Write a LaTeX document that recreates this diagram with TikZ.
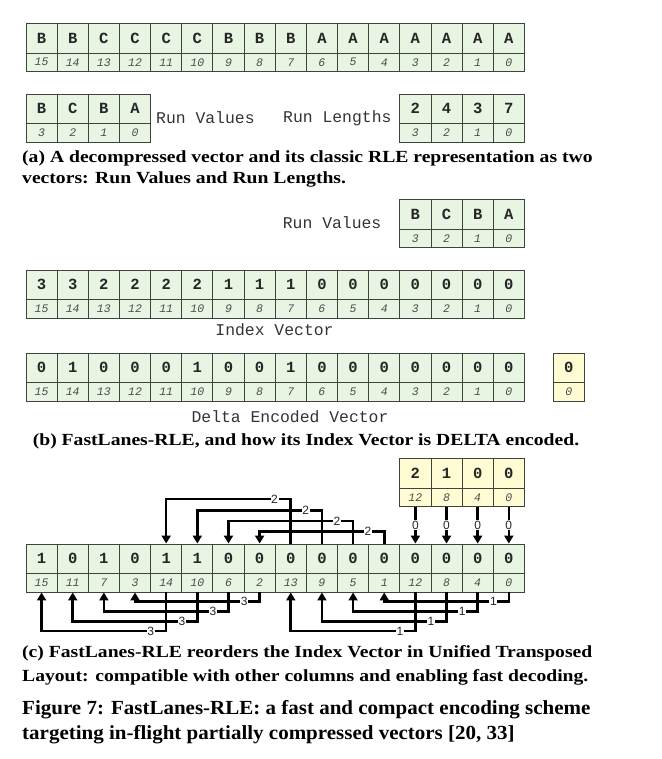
\documentclass[tikz,border=0pt]{standalone}
\usepackage{fontspec}
\setmainfont{Liberation Serif}
\newfontfamily\cellfont{Liberation Mono}
\newfontfamily\lblfont{Liberation Sans}
\newfontfamily\capfont[FakeStretch=1.155]{Liberation Serif}
\newfontfamily\figfont[FakeStretch=1.05]{Liberation Serif}
\usetikzlibrary{arrows.meta}
\definecolor{cellgreen}{HTML}{E8F5E3}
\definecolor{cellyellow}{HTML}{FFFBD3}
\definecolor{celldraw}{HTML}{3C443C}
\begin{document}
\begin{tikzpicture}[x=1pt,y=-1pt]
		\tikzstyle{val}=[draw=celldraw,
			line width=0.9pt,
			fill=cellgreen,
			minimum width=31.15pt,
			minimum height=29.5pt,
			inner sep=0pt,
			text=black!85,
			font=\cellfont\bfseries\fontsize{15.5}{15.5}\selectfont,
			];
		\tikzstyle{idx}=[val,
			minimum height=18.5pt,
			text=black!70,
			font=\cellfont\itshape\fontsize{11.5}{11.5}\selectfont,
			];
		\tikzstyle{yval}=[val,fill=cellyellow];
		\tikzstyle{yidx}=[idx,fill=cellyellow];
		\tikzstyle{vecname}=[inner sep=0pt,text=black!80,font=\cellfont\fontsize{16.4}{16.4}\selectfont];
		\tikzstyle{subcap}=[inner sep=0pt,font=\capfont\bfseries\fontsize{17}{17}\selectfont];
		\tikzstyle{figcap}=[inner sep=0pt,font=\figfont\bfseries\fontsize{20}{20}\selectfont];
		\tikzstyle{arr}=[line width=2.6pt,-{Triangle[width=9pt,length=8pt]}];
		\tikzstyle{lbl}=[fill=white,inner sep=0.6pt,text=black!85,font=\lblfont\fontsize{12}{12}\selectfont];

		\useasboundingbox (0,0) rectangle (661,759);

		\foreach \v [count=\i from 0, evaluate=\i as \n using int(15-\i)] in {B,B,C,C,C,C,B,B,B,A,A,A,A,A,A,A} {
			\node [val] (av\i) at ({41.575+31.15*\i},38.25) {\v};
			\node [idx] (ai\i) at ({41.575+31.15*\i},62.25) {\n};
		}

		\foreach \v [count=\i from 0, evaluate=\i as \n using int(3-\i)] in {B,C,B,A} {
			\node [val] (rv\i) at ({41.575+31.15*\i},108.75) {\v};
			\node [idx] (ri\i) at ({41.575+31.15*\i},132.75) {\n};
		}
		\node [vecname,anchor=west] (rvname) at (156,118) {Run Values};
		\node [vecname,anchor=west] (rlname) at (283,118) {Run Lengths};
		\foreach \v [count=\i from 12, evaluate=\i as \n using int(15-\i)] in {2,4,3,7} {
			\node [val] (lv\i) at ({41.575+31.15*\i},108.75) {\v};
			\node [idx] (li\i) at ({41.575+31.15*\i},132.75) {\n};
		}
		\node [subcap,anchor=base west] (capa1) at (22,162.3) {(a) A decompressed vector and its classic RLE representation as two};
		\node [subcap,anchor=base west] (capa2) at (22,184) {vectors: Run Values and Run Lengths.};

		\node [vecname,anchor=west] (bvname) at (282.7,223) {Run Values};
		\foreach \v [count=\i from 12, evaluate=\i as \n using int(15-\i)] in {B,C,B,A} {
			\node [val] (bv\i) at ({41.575+31.15*\i},214.25) {\v};
			\node [idx] (bi\i) at ({41.575+31.15*\i},238.25) {\n};
		}

		\foreach \v [count=\i from 0, evaluate=\i as \n using int(15-\i)] in {3,3,2,2,2,2,1,1,1,0,0,0,0,0,0,0} {
			\node [val] (xv\i) at ({41.575+31.15*\i},284.75) {\v};
			\node [idx] (xi\i) at ({41.575+31.15*\i},308.75) {\n};
		}
		\node [vecname] (xname) at (274.5,330) {Index Vector};

		\foreach \v [count=\i from 0, evaluate=\i as \n using int(15-\i)] in {0,1,0,0,0,1,0,0,1,0,0,0,0,0,0,0} {
			\node [val] (dv\i) at ({41.575+31.15*\i},367.75) {\v};
			\node [idx] (di\i) at ({41.575+31.15*\i},391.75) {\n};
		}
		\node [yval] (dbv) at (568.8,367.75) {0};
		\node [yidx] (dbi) at (568.8,391.75) {0};
		\node [vecname] (dname) at (290,417) {Delta Encoded Vector};
		\node [subcap,anchor=base] (capb) at (306,445.7) {(b) FastLanes-RLE, and how its Index Vector is DELTA encoded.};

		\foreach \v/\n [count=\i from 12] in {2/12,1/8,0/4,0/0} {
			\node [yval] (yv\i) at ({41.575+31.15*\i},473.25) {\v};
			\node [yidx] (yi\i) at ({41.575+31.15*\i},497.25) {\n};
		}
		\foreach \v/\n [count=\i from 0] in {1/15,0/11,1/7,0/3,1/14,1/10,0/6,0/2,0/13,0/9,0/5,0/1,0/12,0/8,0/4,0/0} {
			\node [val] (cv\i) at ({41.575+31.15*\i},558.75) {\v};
			\node [idx] (ci\i) at ({41.575+31.15*\i},582.75) {\n};
		}

		\foreach \s/\h in {8/499,9/510.3,10/521,11/531.7} {
			\pgfmathtruncatemacro\t{\s-4}
			\draw [arr] (cv\s.north) |- node [lbl,pos=0.565] {2} (cv\t.north |- 0,\h) -- (cv\t.north);
		}
		\foreach \s/\h in {4/631,5/621.7,6/611.7,7/601.7} {
			\pgfmathtruncatemacro\t{\s-4}
			\draw [arr] (ci\s.south) |- node [lbl,pos=0.562] {3} (ci\t.south |- 0,\h) -- (ci\t.south);
		}
		\foreach \s/\h in {12/631,13/621.7,14/611.7,15/601.7} {
			\pgfmathtruncatemacro\t{\s-4}
			\draw [arr] (ci\s.south) |- node [lbl,pos=0.562] {1} (ci\t.south |- 0,\h) -- (ci\t.south);
		}
		\foreach \i in {12,13,14,15} {
			\draw [arr] (yi\i.south) -- node [lbl] {0} (cv\i.north);
		}

		\node [subcap,anchor=base west] (capc1) at (22,657) {(c) FastLanes-RLE reorders the Index Vector in Unified Transposed};
		\node [subcap,anchor=base west] (capc2) at (22,681) {Layout: compatible with other columns and enabling fast decoding.};
		\node [figcap,anchor=base west] (fig1) at (22,714) {Figure 7: FastLanes-RLE: a fast and compact encoding scheme};
		\node [figcap,anchor=base west] (fig2) at (22,739) {targeting in-flight partially compressed vectors [20, 33]};
	\end{tikzpicture}
\end{document}
